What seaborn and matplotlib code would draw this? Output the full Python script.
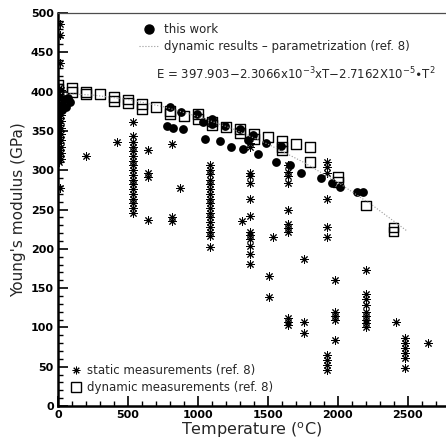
import numpy as np
import pandas as pd
import matplotlib
matplotlib.use('Agg')
import matplotlib.pyplot as plt
from matplotlib.lines import Line2D
from matplotlib.ticker import MultipleLocator
import seaborn as sns

# static measurements (ref. 8): temperature (C), modulus (GPa)
static_T = ([8] * 13 + [22] * 12 + [15, 15, 15, 15]
            + [200, 425, 540]
            + [540] * 17
            + [645, 645, 645, 645, 815, 815, 815, 870]
            + [1090] * 17
            + [1315] + [1370] * 13
            + [1510, 1510, 1536]
            + [1645] * 11
            + [1760, 1760, 1760]
            + [1925] * 10
            + [1980] * 5
            + [2200] * 9
            + [2420] + [2480] * 6 + [2645])
static_E = ([310, 318, 326, 334, 342, 350, 358, 366, 374, 382, 390, 398, 405]
            + [314, 322, 330, 338, 346, 354, 362, 370, 378, 386, 394, 402]
            + [486, 472, 437, 277]
            + [318, 336, 361]
            + [246, 252, 258, 264, 270, 276, 282, 288, 294, 300, 306, 312, 318, 324, 330, 336, 343]
            + [326, 297, 291, 237, 333, 240, 236, 277]
            + [202, 216, 222, 228, 234, 240, 246, 252, 258, 264, 270, 276, 282, 288, 295, 300, 307]
            + [236] + [335, 329, 297, 292, 284, 264, 242, 222, 217, 212, 203, 193, 181]
            + [166, 139, 215]
            + [306, 298, 292, 284, 250, 231, 226, 222, 112, 107, 103]
            + [187, 107, 93]
            + [311, 304, 297, 264, 228, 215, 65, 58, 52, 46]
            + [160, 120, 115, 110, 84]
            + [173, 142, 136, 129, 120, 115, 110, 105, 101]
            + [107] + [87, 80, 74, 68, 61, 48] + [80])

# dynamic measurements (ref. 8)
dynamic_T = [0, 0, 100, 100, 200, 200, 300, 400, 400, 500, 500, 600, 600, 700,
             800, 800, 900, 1000, 1000, 1100, 1100, 1200, 1300, 1300, 1400, 1400,
             1500, 1600, 1600, 1600, 1700, 1800, 1800, 2000, 2000, 2200, 2400, 2400]
dynamic_E = [408, 403, 405, 399, 400, 397, 397, 393, 388, 390, 385, 384, 378, 380,
             375, 371, 369, 371, 365, 362, 357, 355, 352, 347, 346, 340,
             342, 337, 330, 325, 333, 330, 310, 291, 285, 255, 227, 222]

# this work
work_T = [20, 30, 45, 55, 70, 85,
          800, 780, 820, 880, 895, 995, 1036, 1050, 1100, 1100, 1160, 1193, 1240,
          1300, 1321, 1357, 1393, 1430, 1490, 1560, 1593, 1657, 1740, 1880, 1957,
          2014, 2140, 2180]
work_E = [383, 377, 390, 381, 392, 387,
          381, 356, 354, 374, 352, 372, 361, 340, 365, 359, 337, 356, 329,
          353, 327, 339, 345, 320, 334, 310, 331, 307, 297, 290, 284,
          279, 272, 272]

# dynamic results - parametrization (ref. 8)
fit_T = [0, 250, 500, 750, 1000, 1250, 1500, 1750, 2000, 2250, 2500]
fit_E = [397.9, 395.6, 390.0, 380.9, 368.4, 352.6, 333.3, 310.7, 284.7, 255.2, 222.2]


def main():
    sns.set_style('ticks')
    plt.rcParams['font.family'] = ['DejaVu Sans']
    fig = plt.figure(figsize=(4.46, 4.42), dpi=100)
    ax = fig.add_axes([0.130, 0.0814, 0.87, 0.8892])

    sns.lineplot(x=fit_T, y=fit_E, ax=ax, color='0.6', linestyle=':', lw=0.8)
    asterisk = (8, 2, 0)
    sns.scatterplot(x=static_T, y=static_E, ax=ax, marker=asterisk, color='k',
                    s=30, linewidth=0.7)
    sns.scatterplot(x=dynamic_T, y=dynamic_E, ax=ax, marker='s', facecolor='none',
                    edgecolor='k', s=50, linewidth=1.0)
    sns.scatterplot(x=work_T, y=work_E, ax=ax, marker='o', color='k',
                    edgecolor='k', s=40, linewidth=0)

    ax.set_xlim(0, 2775)
    ax.set_ylim(0, 500)
    ax.xaxis.set_major_locator(MultipleLocator(500))
    ax.xaxis.set_minor_locator(MultipleLocator(100))
    ax.yaxis.set_major_locator(MultipleLocator(50))
    ax.yaxis.set_minor_locator(MultipleLocator(10))
    ax.tick_params(which='major', direction='in', length=7, width=1.2,
                   labelsize=8, pad=3, color='k', labelcolor='k')
    ax.tick_params(which='minor', direction='in', length=3.5, width=1.0, color='k')
    for lab in ax.get_xticklabels() + ax.get_yticklabels():
        lab.set_fontweight('bold')
    ax.spines['left'].set_linewidth(1.8)
    ax.spines['bottom'].set_linewidth(1.8)
    ax.spines['left'].set_color('k')
    ax.spines['bottom'].set_color('k')
    ax.spines['top'].set_linewidth(0.9)
    ax.spines['top'].set_color('0.3')
    ax.spines['right'].set_visible(False)

    ax.set_xlabel(r'Temperature ($^{\mathrm{o}}$C)', fontsize=11.5, labelpad=0)
    ax.set_ylabel("Young's modulus (GPa)", fontsize=11, labelpad=3)

    h1 = [Line2D([], [], marker='o', color='k', ls='none', markersize=6.5),
          Line2D([], [], color='0.6', ls=':', lw=0.8)]
    leg1 = ax.legend(h1, ['this work', 'dynamic results \u2013 parametrization (ref. 8)'],
                     loc='upper left', bbox_to_anchor=(0.21, 0.975), frameon=False,
                     fontsize=8.5, handlelength=1.6, handletextpad=0.5,
                     borderpad=0, borderaxespad=0, labelspacing=0.35)
    ax.add_artist(leg1)
    ax.text(0.253, 0.845,
            r'E = 397.903$-$2.3066x10$^{-3}$xT$-$2.7162X10$^{-5}$$\bullet$T$^{2}$',
            transform=ax.transAxes, fontsize=8.5, va='center', ha='left')

    h2 = [Line2D([], [], marker=asterisk, color='k', ls='none', markersize=5.5,
                 markeredgewidth=0.7),
          Line2D([], [], marker='s', markerfacecolor='none', markeredgecolor='k',
                 ls='none', markersize=7)]
    ax.legend(h2, ['static measurements (ref. 8)', 'dynamic measurements (ref. 8)'],
              loc='lower left', bbox_to_anchor=(0.03, 0.03), frameon=False,
              fontsize=8.5, handlelength=1.0, handletextpad=0.5,
              borderpad=0, borderaxespad=0, labelspacing=0.35)

    plt.savefig('out.png', dpi=100)


if __name__ == '__main__':
    main()
